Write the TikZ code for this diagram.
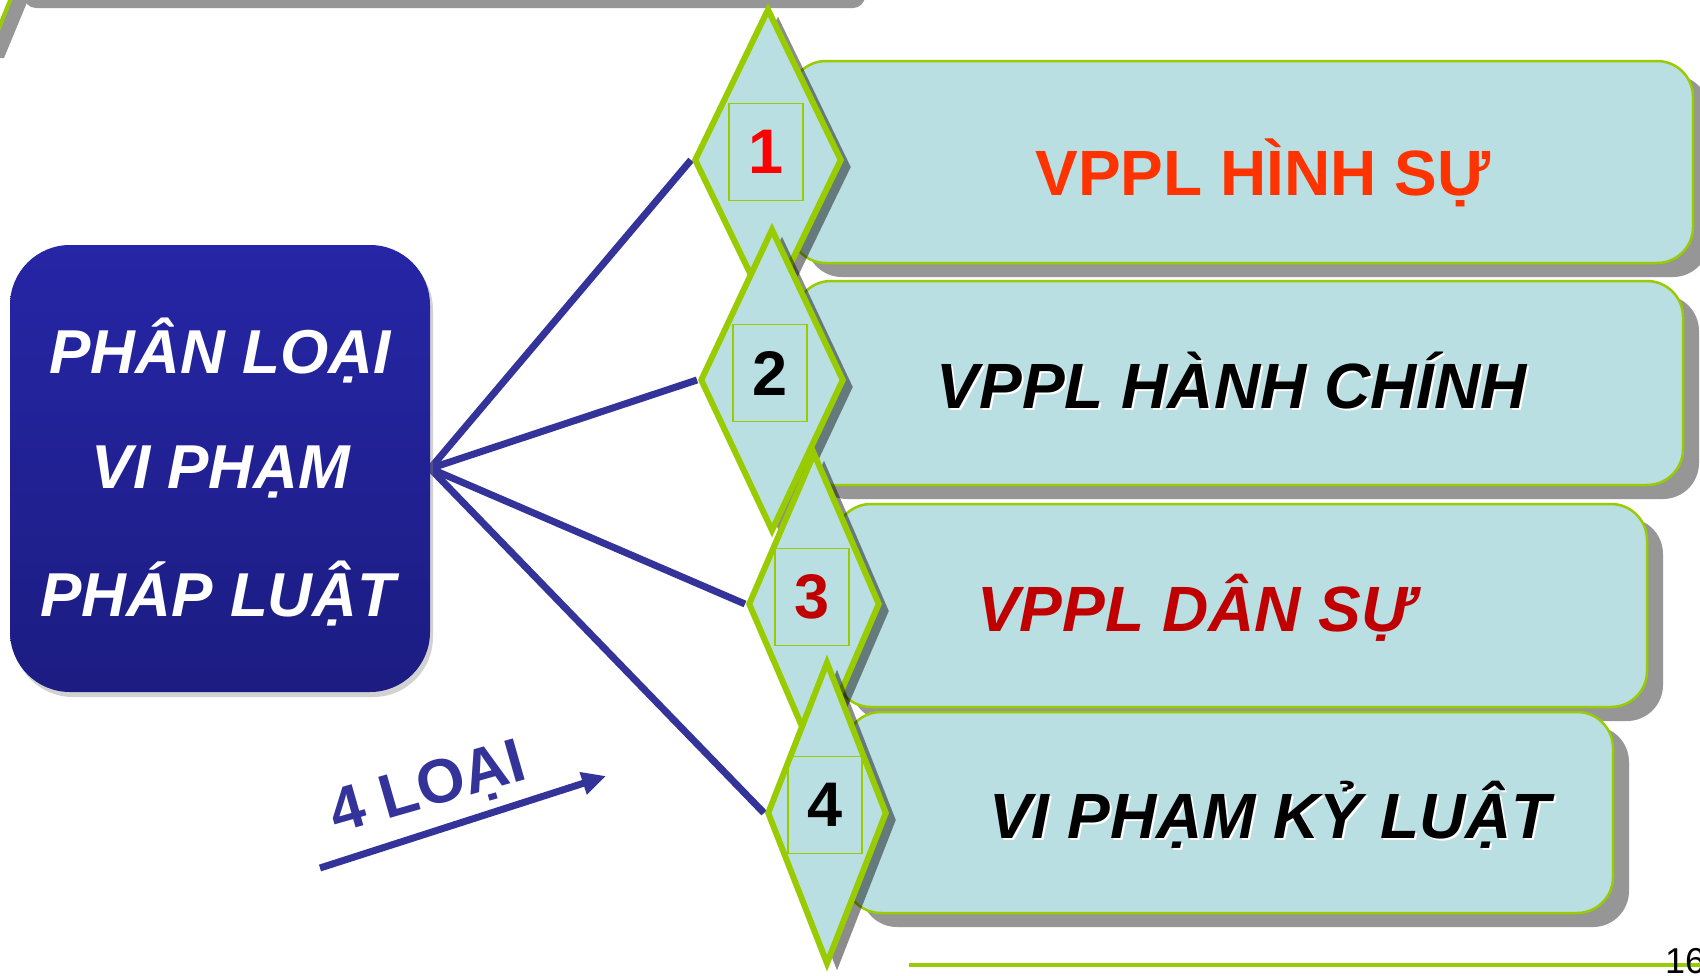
\documentclass[tikz,border=0pt]{standalone}
\usepackage{fontspec}
\setmainfont{Liberation Sans}
\usetikzlibrary{positioning,shapes.geometric,shadows,arrows.meta,backgrounds}
\definecolor{boxblue}{HTML}{B9DFE2}
\definecolor{limegreen}{HTML}{99CC00}
\definecolor{shadegray}{HTML}{969696}
\definecolor{fanblue}{HTML}{333399}
\definecolor{hinhred}{HTML}{FF3300}
\definecolor{danred}{HTML}{C00000}
\definecolor{boxtop}{HTML}{2626A6}
\definecolor{boxbot}{HTML}{1C1C82}
\begin{document}
\begin{tikzpicture}[x=1pt,y=-1pt,
  typebox/.style={draw=limegreen,line width=2.5pt,fill=boxblue,rounded corners=36pt,
    drop shadow={shadow xshift=16pt,shadow yshift=-14pt,fill=shadegray,opacity=1}},
  rhomb/.style={diamond,draw=limegreen,line width=6pt,fill=boxblue,inner sep=0pt,minimum height=303pt,
    drop shadow={shadow xshift=10pt,shadow yshift=-7pt,fill=black,opacity=0.45}},
  numbox/.style={draw=limegreen,line width=1.5pt,minimum width=74pt,minimum height=97pt,inner sep=0pt,
    font=\fontsize{63}{63}\selectfont\bfseries},
  kind/.style={anchor=base,font=\fontsize{64}{70}\selectfont\bfseries\itshape},
  fan/.style={draw=fanblue,line width=7pt}]
\useasboundingbox (0,0) rectangle (1700,975);
% pieces of the shapes above the frame
\fill[shadegray,rounded corners=12pt] (24,-40) rectangle (865,8);
\fill[shadegray] (12,0) -- (28,0) -- (4,58) -- (0,58) -- (0,30) -- cycle;
\draw[limegreen,line width=4pt] (-2,30) -- (11,-2);
% left block
\node[rounded corners=60pt,minimum width=420pt,minimum height=447pt,top color=boxtop,bottom color=boxbot,
  drop shadow={shadow xshift=3pt,shadow yshift=-5pt,opacity=0.35}] (LB) at (220,468.5) {};
\node[anchor=base,text=white,font=\fontsize{62}{64}\selectfont\bfseries\itshape] (LT1) at (220,373) {PHÂN LOẠI};
\node[anchor=base,text=white,font=\fontsize{62}{64}\selectfont\bfseries\itshape] (LT2) at (221,488) {VI PHẠM};
\node[anchor=base,text=white,font=\fontsize{62}{64}\selectfont\bfseries\itshape] (LT3) at (218,616) {PHÁP LUẬT};
% the four kinds
\node[typebox,minimum width=903pt,minimum height=202pt] (B1) at (1241.5,162) {};
\node[typebox,minimum width=888pt,minimum height=204pt] (B2) at (1239,383) {};
\node[typebox,minimum width=812pt,minimum height=203pt] (B3) at (1241,605.5) {};
\node[typebox,minimum width=768pt,minimum height=201pt] (B4) at (1229,812.5) {};
\node[kind,text=hinhred,font=\fontsize{64}{70}\selectfont\bfseries] (T1) at (1263,195) {VPPL HÌNH SỰ};
\node[kind,text=white] (T2s) at (1234,410) {VPPL HÀNH CHÍNH};
\node[kind,text=black] (T2) at (1232,408) {VPPL HÀNH CHÍNH};
\node[kind,text=danred] (T3) at (1195,631) {VPPL DÂN SỰ};
\node[kind,text=white] (T4s) at (1272,840) {VI PHẠM KỶ LUẬT};
\node[kind,text=black] (T4) at (1270,838) {VI PHẠM KỶ LUẬT};
% diamonds with numbers
\node[rhomb,minimum width=148pt] (D1) at (768,160) {};
\node[numbox,text=red] (Q1) at (766,152) {1};
\node[rhomb,minimum width=144pt] (D2) at (772,380) {};
\node[numbox,text=black] (Q2) at (770,373) {2};
\node[rhomb,minimum width=132pt] (D3) at (814,604) {};
\node[numbox,text=danred] (Q3) at (812,597) {3};
\node[rhomb,minimum width=120pt] (D4) at (827,813) {};
\node[numbox,text=black] (Q4) at (825,805) {4};
% count arrow
\node[anchor=base,rotate=16,text=fanblue,font=\fontsize{62}{62}\selectfont\bfseries] (LOAI) at (433,806) {4 LOẠI};
\coordinate (A0) at (320,868);
\coordinate (A1) at (606,776);
\draw[fanblue,line width=7pt,-{Triangle[length=24pt,width=22pt]}] (A0) -- (A1);
% footer
\coordinate (F0) at (909,965);
\coordinate (F1) at (1700,965);
\draw[limegreen,line width=3.5pt] (F0) -- (F1);
\node[anchor=base west,inner sep=0pt,font=\fontsize{36}{36}\selectfont] (PG) at (1665,973) {16};
\begin{scope}[on background layer]
\fill[white] (0,0) rectangle (1700,975);
\foreach \k in {1,...,4} \draw[fan] (LB.east) -- (D\k.west);
\end{scope}
\end{tikzpicture}
\end{document}
